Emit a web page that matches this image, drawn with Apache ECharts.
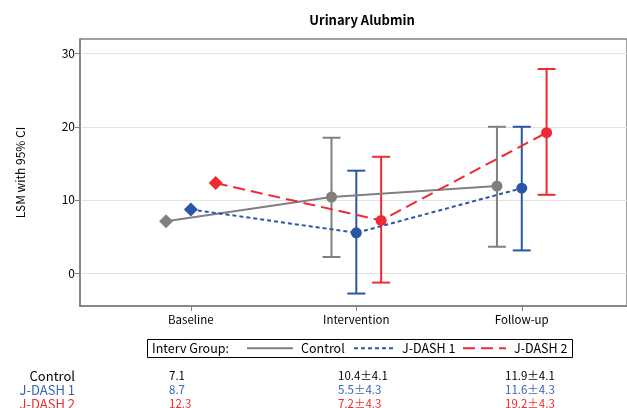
<!DOCTYPE html>
<html><head><meta charset="utf-8">
<script src="https://cdn.jsdelivr.net/npm/echarts@6/dist/echarts.min.js"></script>
<style>html,body{margin:0;padding:0;background:#fff}#c{width:627px;height:408px}</style>
</head><body><div id="c"></div>
<script>
const categories = ['Baseline', 'Intervention', 'Follow-up'];
const groups = ['Control', 'J-DASH 1', 'J-DASH 2'];
const controlMean = [7.1, 10.4, 11.9];
const controlLow = [null, 2.2, 3.6];
const controlHigh = [null, 18.5, 20.0];
const jdash1Mean = [8.7, 5.5, 11.6];
const jdash1Low = [null, -2.8, 3.1];
const jdash1High = [null, 14.0, 20.0];
const jdash2Mean = [12.3, 7.2, 19.2];
const jdash2Low = [null, -1.3, 10.7];
const jdash2High = [null, 15.9, 27.9];
const yTicks = [0, 10, 20, 30];
const tableRows = [
  ['7.1', '10.4±4.1', '11.9±4.1'],
  ['8.7', '5.5±4.3', '11.6±4.3'],
  ['12.3', '7.2±4.3', '19.2±4.3']
];

const colors = ['#808080', '#2a56a8', '#ee2b33'];
const tableColors = ['#000000', '#3a62b6', '#ee2b33'];
const offsets = [-0.15, 0, 0.15];
const means = [controlMean, jdash1Mean, jdash2Mean];
const lows = [controlLow, jdash1Low, jdash2Low];
const highs = [controlHigh, jdash1High, jdash2High];
const dashes = ['solid', [4, 3], [12, 6]];
const FONT = 'Noto Sans CJK JP';

const series = [];
groups.forEach((g, gi) => {
  const ebData = [];
  categories.forEach((c, ci) => {
    if (lows[gi][ci] != null) ebData.push([ci + 1 + offsets[gi], lows[gi][ci], highs[gi][ci]]);
  });
  series.push({
    type: 'custom', name: g + ' CI', z: 2, silent: true,
    data: ebData,
    encode: { x: 0, y: [1, 2] },
    renderItem: function (params, api) {
      const x = api.value(0);
      const lo = api.coord([x, api.value(1)]);
      const hi = api.coord([x, api.value(2)]);
      const hw = 9;
      const style = { stroke: colors[gi], lineWidth: 2, fill: null };
      return { type: 'group', children: [
        { type: 'line', shape: { x1: lo[0], y1: lo[1], x2: hi[0], y2: hi[1] }, style: style },
        { type: 'line', shape: { x1: lo[0] - hw, y1: lo[1], x2: lo[0] + hw, y2: lo[1] }, style: style },
        { type: 'line', shape: { x1: hi[0] - hw, y1: hi[1], x2: hi[0] + hw, y2: hi[1] }, style: style }
      ]};
    }
  });
});
groups.forEach((g, gi) => {
  series.push({
    type: 'line', name: g, z: 3,
    data: categories.map((c, ci) => ({
      value: [ci + 1 + offsets[gi], means[gi][ci]],
      symbol: ci === 0 ? 'diamond' : 'circle',
      symbolSize: ci === 0 ? 14 : 11
    })),
    lineStyle: { color: colors[gi], width: 2, type: dashes[gi] },
    itemStyle: { color: colors[gi] },
    showSymbol: true, animation: false
  });
});

const graphics = [
  { type: 'text', x: 152, y: 348.5, style: { text: 'Interv Group:', font: '12.5px "' + FONT + '"', fill: '#000', verticalAlign: 'middle' } }
];
groups.forEach((g, gi) => {
  const y = 376 + gi * 14;
  graphics.push({ type: 'text', x: 75, y: y, style: { text: g, font: '13px "' + FONT + '"', fill: tableColors[gi], align: 'right', verticalAlign: 'middle' } });
  const xs = [169, 338, 505];
  tableRows[gi].forEach((t, ci) => {
    graphics.push({ type: 'text', x: xs[ci], y: y, style: { text: t, font: '11.5px "' + FONT + '"', fill: tableColors[gi], align: 'left', verticalAlign: 'middle' } });
  });
});

const legendPos = [{ left: 246, w: 46 }, { left: 353, w: 40 }, { left: 462, w: 43 }];
const legends = groups.map((g, gi) => ({
  data: [g], left: legendPos[gi].left, top: 342, itemWidth: legendPos[gi].w, itemHeight: 10,
  padding: 0,
  textStyle: { fontSize: 12.5, color: '#000', fontFamily: FONT, padding: [0, 0, 0, 3] },
  itemStyle: { opacity: 0 }
}));

const chart = echarts.init(document.getElementById('c'), null, { renderer: 'canvas' });
chart.setOption({
  animation: false,
  backgroundColor: '#fff',
  textStyle: { fontFamily: FONT },
  title: { text: 'Urinary Alubmin', left: 357, textAlign: 'center', top: 9,
    textStyle: { fontSize: 13, fontWeight: 'bold', color: '#000', fontFamily: FONT } },
  grid: { left: 80, top: 39, right: -4, bottom: 102, show: true, borderColor: '#808080', borderWidth: 1.5 },
  legend: legends,
  xAxis: {
    type: 'value', min: 0.33, max: 3.636,
    axisLine: { show: true, onZero: false, lineStyle: { color: '#808080', width: 1.5 } },
    axisTick: { show: true, length: 5, lineStyle: { color: '#808080' }, customValues: [1, 2, 3] },
    axisLabel: { customValues: [1, 2, 3], formatter: v => categories[Math.round(v) - 1] || '', color: '#000', fontSize: 11.5, margin: 8, fontFamily: FONT },
    splitLine: { show: false }
  },
  yAxis: {
    type: 'value', min: -4.5, max: 32,
    name: 'LSM with 95% CI', nameLocation: 'middle', nameGap: 54, nameRotate: 90,
    nameTextStyle: { fontSize: 12, color: '#000', fontFamily: FONT },
    axisLine: { show: true, onZero: false, lineStyle: { color: '#808080', width: 1.5 } },
    axisTick: { show: true, length: 5, lineStyle: { color: '#808080' }, customValues: yTicks },
    axisLabel: { customValues: yTicks, color: '#000', fontSize: 12, margin: 5, fontFamily: FONT },
    splitLine: { show: true, lineStyle: { color: '#e2e2e2', width: 1 } }
  },
  series: series,
  graphic: graphics.concat([
    { type: 'rect', shape: { x: 147.5, y: 339.5, width: 425, height: 18 }, style: { fill: null, stroke: '#000', lineWidth: 1 }, z: 100 }
  ])
});
</script></body></html>
